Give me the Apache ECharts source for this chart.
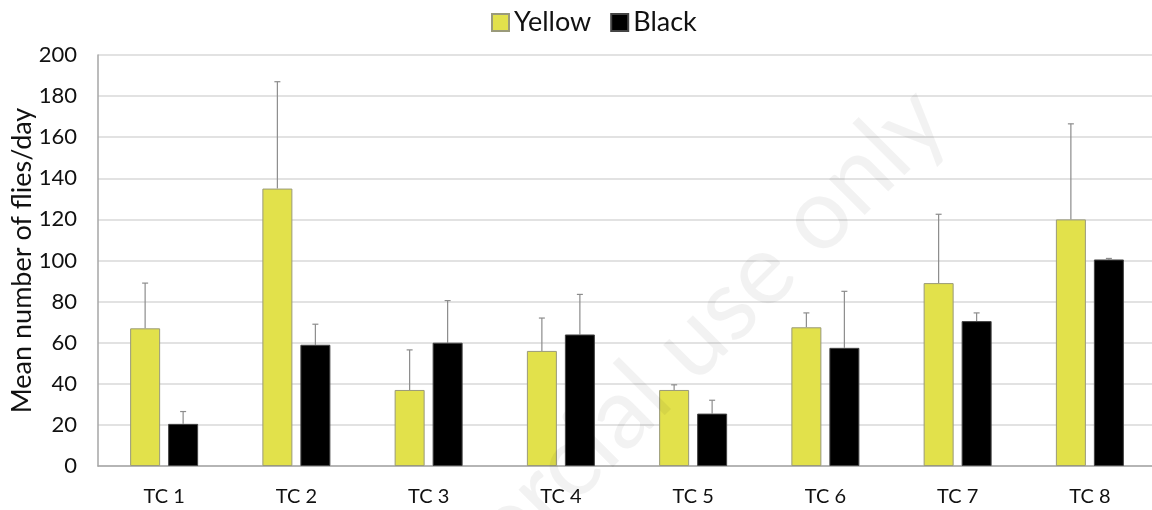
<!DOCTYPE html>
<html>
<head>
<meta charset="utf-8">
<script src="https://cdn.jsdelivr.net/npm/echarts@6/dist/echarts.min.js"></script>
<style>
  html, body { margin: 0; padding: 0; background: #fff; }
  #chart { width: 1152px; height: 510px; }
</style>
</head>
<body>
<div id="chart"></div>
<script>
// 数据
const categories = ['TC 1', 'TC 2', 'TC 3', 'TC 4', 'TC 5', 'TC 6', 'TC 7', 'TC 8'];
const yellowMean = [67, 135, 37, 56, 37, 67.5, 89, 120];
const yellowErr = [22, 52, 19.5, 16, 2.5, 7, 33.5, 46.5];
const blackMean = [20.5, 59, 60, 64, 25.5, 57.5, 70.5, 100.5];
const blackErr = [6, 10, 20.5, 19.5, 6.5, 27.5, 4, 0.5];
const yTicks = { min: 0, max: 200, interval: 20 };

const BAR_W = 30;
const BAR_GAP = 8;
const FONT = 'Lato, "Open Sans", sans-serif';

// 误差线 (只画上半部分 + 顶端小横线)
const errorSeries = (name, means, errs, side) => ({
  name: name + ' err',
  type: 'custom',
  z: 1,
  silent: true,
  data: means.map((m, i) => [i, m, m + errs[i]]),
  renderItem: (params, api) => {
    const base = api.coord([api.value(0), api.value(1)]);
    const top = api.coord([api.value(0), api.value(2)]);
    const x = base[0] + side * (BAR_W + BAR_GAP) / 2;
    const style = { stroke: '#8c8c8c', lineWidth: 1.2 };
    return {
      type: 'group',
      children: [
        { type: 'line', shape: { x1: x, y1: base[1], x2: x, y2: top[1] }, style },
        { type: 'line', shape: { x1: x - 3, y1: top[1], x2: x + 3, y2: top[1] }, style }
      ]
    };
  }
});

const myChart = echarts.init(document.getElementById('chart'));
const option = {
  animation: false,
  textStyle: { fontFamily: FONT },
  legend: {
    data: ['Yellow', 'Black'],
    top: 4,
    left: 486,
    icon: 'rect',
    itemWidth: 17,
    itemHeight: 17,
    itemGap: 19,
    textStyle: { fontSize: 27, color: '#111', fontFamily: FONT }
  },
  grid: { left: 98, width: 1058, top: 55, bottom: 44, outerBoundsMode: 'none', containLabel: false },
  xAxis: {
    type: 'category',
    data: categories,
    axisTick: { show: false },
    axisLine: { lineStyle: { color: '#a6a6a6', width: 1.5 } },
    axisLabel: { fontSize: 20, color: '#111', margin: 21 }
  },
  yAxis: {
    type: 'value',
    min: yTicks.min,
    max: yTicks.max,
    interval: yTicks.interval,
    name: 'Mean number of flies/day',
    nameLocation: 'middle',
    nameGap: 62,
    nameMoveOverlap: false,
    nameTextStyle: { fontSize: 27, color: '#111' },
    axisLine: { show: true, lineStyle: { color: '#a6a6a6', width: 1.5 } },
    axisTick: { show: false },
    axisLabel: { fontSize: 22, color: '#111', margin: 21 },
    splitLine: { lineStyle: { color: '#d9d9d9', width: 1.5 } }
  },
  series: [
    {
      name: 'Yellow',
      type: 'bar',
      data: yellowMean,
      barWidth: BAR_W,
      barGap: (BAR_GAP / BAR_W * 100) + '%',
      itemStyle: { color: '#e2e14b', borderColor: '#9a9a7a', borderWidth: 1 }
    },
    {
      name: 'Black',
      type: 'bar',
      data: blackMean,
      barWidth: BAR_W,
      itemStyle: { color: '#000', borderColor: '#444', borderWidth: 1 }
    },
    errorSeries('Yellow', yellowMean, yellowErr, -1),
    errorSeries('Black', blackMean, blackErr, 1)
  ],
  // 水印
  graphic: [{
    type: 'text',
    x: 965,
    y: 140,
    rotation: Math.PI / 4,
    silent: true,
    z: 100,
    style: {
      text: 'commercial use only',
      align: 'right',
      verticalAlign: 'bottom',
      fontSize: 100,
      fill: 'rgba(0,0,0,0.05)',
      fontFamily: FONT
    }
  }]
};
myChart.setOption(option);
window.addEventListener('resize', () => myChart.resize());
</script>
</body>
</html>
